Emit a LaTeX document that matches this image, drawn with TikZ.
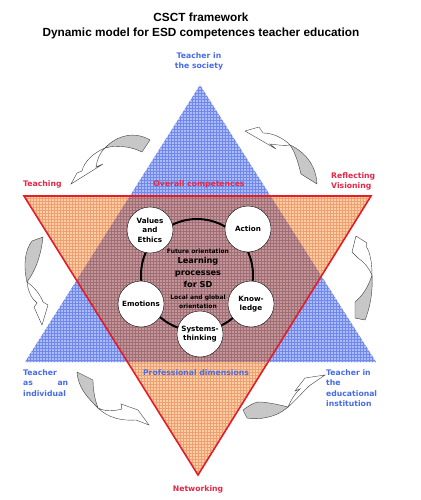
\documentclass[tikz,border=0pt]{standalone}
\usepackage{fontspec}
\setmainfont{DejaVu Sans}
\newfontfamily\titlefont{Liberation Sans}
\definecolor{bluebg}{RGB}{172,188,248}
\definecolor{bluegrid}{RGB}{112,136,234}
\definecolor{orangebg}{RGB}{252,206,168}
\definecolor{orangegrid}{RGB}{238,160,112}
\definecolor{mixbg}{RGB}{196,150,152}
\definecolor{mixgrid}{RGB}{160,110,118}
\definecolor{framered}{RGB}{226,30,40}
\definecolor{textred}{RGB}{228,40,72}
\definecolor{textblue}{RGB}{72,108,230}
\begin{document}
\begin{tikzpicture}[
  x=1pt, y=-1pt,
  titletext/.style={font=\titlefont\bfseries\fontsize{11.8}{14.5}\selectfont, align=center, inner sep=0pt},
  redtext/.style={font=\bfseries\fontsize{7.7}{10.5}\selectfont, text=textred, inner sep=0pt},
  bluetext/.style={font=\bfseries\fontsize{7.7}{10.5}\selectfont, text=textblue, inner sep=0pt},
  comp/.style={circle, draw, fill=white, minimum size=46pt, inner sep=0pt, align=center,
    font=\bfseries\fontsize{7.2}{9.5}\selectfont},
  coretext/.style={font=\bfseries\fontsize{8.2}{12}\selectfont, align=center, inner sep=0pt},
  smalltext/.style={font=\bfseries\fontsize{6}{9.5}\selectfont, align=center, inner sep=0pt},
  backface/.style={fill=black!22, draw=black!75, line width=0.4pt},
  frontface/.style={fill=white, draw=black!75, line width=0.4pt},
  fillgrid/.style={line width=0.3pt, step=3pt}
]
  \useasboundingbox[fill=white] (0,0) rectangle (420,500);

  % the two triangles
  \coordinate (btop) at (200,85);
  \coordinate (bleft) at (25,362);
  \coordinate (bright) at (376,362);
  \coordinate (rleft) at (24,196);
  \coordinate (rright) at (371,196);
  \coordinate (rbot) at (198,475);

  \begin{scope}
    \clip (btop) -- (bleft) -- (bright) -- cycle;
    \fill[bluebg] (0,0) rectangle (420,500);
    \draw[bluegrid, fillgrid] (0pt,-500pt) grid (420pt,0pt);
  \end{scope}
  \begin{scope}
    \clip (rleft) -- (rright) -- (rbot) -- cycle;
    \fill[orangebg] (0,0) rectangle (420,500);
    \draw[orangegrid, fillgrid] (0pt,-500pt) grid (420pt,0pt);
  \end{scope}
  \begin{scope}
    \clip (btop) -- (bleft) -- (bright) -- cycle;
    \clip (rleft) -- (rright) -- (rbot) -- cycle;
    \fill[mixbg] (0,0) rectangle (420,500);
    \draw[mixgrid, fillgrid] (0pt,-500pt) grid (420pt,0pt);
  \end{scope}
  \draw[framered, line width=1.6pt, line join=miter] (rleft) -- (rright) -- (rbot) -- cycle;

  % learning processes
  \node[circle, draw, line width=2pt, minimum size=112pt] (ring) at (197,275) {};
  \node[comp] (values) at (150,230) {Values\\and\\Ethics};
  \node[comp] (action) at (248,229) {Action};
  \node[comp] (emotions) at (141,304) {Emotions};
  \node[comp] (knowledge) at (251,304) {Know-\\ledge};
  \node[comp] (systems) at (200,334) {Systems-\\thinking};
  \node[smalltext] (future) at (198,251) {Future orientation};
  \node[coretext] (core) at (198,272) {Learning\\processes\\for SD};
  \node[smalltext] (local) at (198,302) {Local and global\\orientation};

  % labels
  \node[titletext, anchor=north] (title) at (201,13) {CSCT framework\\Dynamic model for ESD competences teacher education};
  \node[bluetext, align=center, anchor=north] (society) at (199,52) {Teacher in\\the society};
  \node[redtext, anchor=north west] (teaching) at (23,180) {Teaching};
  \node[redtext, anchor=north] (overall) at (199,180) {Overall competences};
  \node[redtext, align=left, anchor=north west] (reflect) at (331,172) {Reflecting\\Visioning};
  \node[bluetext, text width=45pt, align=left, anchor=north west] (individual) at (23,369) {Teacher\\as\hfill an\\individual};
  \node[bluetext, anchor=north] (profdim) at (196,369) {Professional dimensions};
  \node[bluetext, align=left, anchor=north west] (institution) at (326,369) {Teacher in\\the\\educational\\institution};
  \node[redtext, anchor=north] (networking) at (198,485) {Networking};

  % twisted arrows
  \draw[backface] (105,148) .. controls (117,135) and (135,131) .. (150,140) -- (142,152)
    .. controls (130,146) and (116,145) .. (105,148) -- cycle;
  \draw[frontface] (105,148) .. controls (93,153) and (84,162) .. (82,171) -- (77,173) -- (71,184)
    -- (103,164) -- (96,167) .. controls (97,160) and (100,152) .. (105,148) -- cycle;

  \draw[backface] (290,145) .. controls (305,152) and (316,165) .. (317,184) -- (301,174)
    .. controls (298,162) and (295,152) .. (290,145) -- cycle;
  \draw[frontface] (290,145) .. controls (282,137) and (272,133) .. (263,133) -- (259,127) -- (245,131)
    -- (276,149) -- (270,144) .. controls (278,145) and (285,146) .. (290,145) -- cycle;

  \draw[backface] (27,282) .. controls (23,265) and (25,250) .. (32,241) -- (43,237)
    .. controls (41,255) and (36,270) .. (27,282) -- cycle;
  \draw[frontface] (27,282) .. controls (28,292) and (32,299) .. (37,303) -- (34,307) -- (42,325)
    -- (48,305) -- (43,302) .. controls (40,294) and (34,287) .. (27,282) -- cycle;

  \draw[backface] (372,275) .. controls (373,292) and (370,308) .. (365,320) -- (355,318) -- (355,302)
    .. controls (362,296) and (368,288) .. (372,275) -- cycle;
  \draw[frontface] (372,275) .. controls (372,262) and (370,252) .. (366,246) -- (367,243) -- (356,236)
    -- (352,252) -- (358,258) .. controls (364,262) and (369,268) .. (372,275) -- cycle;

  \draw[backface] (98,408) .. controls (88,398) and (78,388) .. (77,372) -- (93,380)
    .. controls (93,390) and (95,400) .. (98,408) -- cycle;
  \draw[frontface] (98,408) .. controls (106,412) and (114,411) .. (122,409) -- (121,404) -- (138,410)
    -- (149,425) -- (136,420) .. controls (122,421) and (108,418) .. (98,408) -- cycle;

  \draw[backface] (288,407) .. controls (276,418) and (258,420) .. (247,418) -- (243,410)
    .. controls (250,405) and (256,401) .. (261,402) .. controls (272,403) and (280,405) .. (288,407) -- cycle;
  \draw[frontface] (288,407) .. controls (292,398) and (296,392) .. (300,389) -- (295,391) -- (305,378)
    -- (325,375) -- (309,386) .. controls (301,394) and (295,401) .. (288,407) -- cycle;
\end{tikzpicture}
\end{document}
